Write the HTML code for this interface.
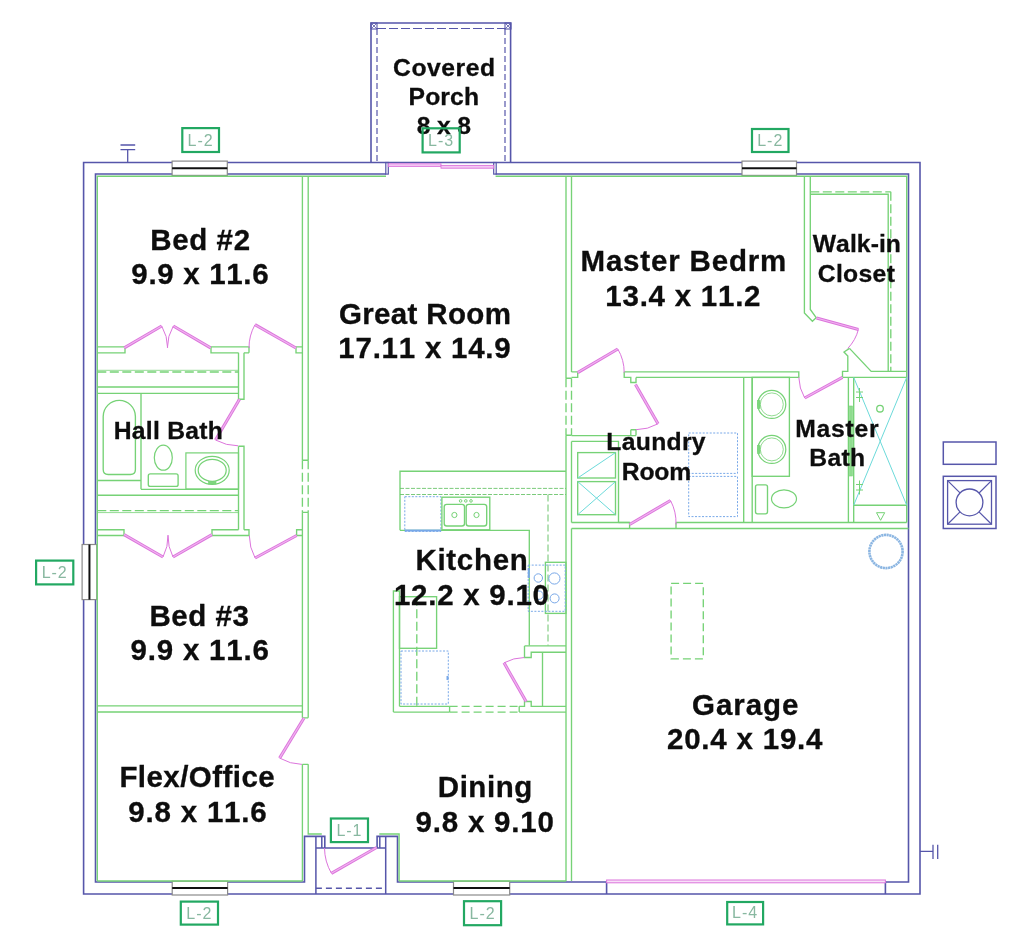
<!DOCTYPE html>
<html><head><meta charset="utf-8"><style>
html,body{margin:0;padding:0;background:#fff;width:1024px;height:932px;overflow:hidden}
svg{display:block;will-change:transform}
text{font-family:"Liberation Sans",sans-serif;font-kerning:none;font-feature-settings:"kern" 0}
</style></head><body>
<svg width="1024" height="932" viewBox="0 0 1024 932">
<rect width="1024" height="932" fill="#fff"/>
<path d="M386,162.5 H83.6 V894 H920 V162.5 H495.6" stroke="#5656aa" stroke-width="1.6" fill="none"/>
<line x1="386" y1="162.5" x2="495.6" y2="162.5" stroke="#5656aa" stroke-width="1.6"/>
<rect x="385.8" y="162.5" width="2.5" height="11.6" stroke="#5656aa" stroke-width="1.2" fill="none"/>
<rect x="493.7" y="162.5" width="2.5" height="11.6" stroke="#5656aa" stroke-width="1.2" fill="none"/>
<path d="M386,174 H95.5 V882 H304.5 V836.4 H324.8 V848" stroke="#5656aa" stroke-width="1.6" fill="none"/>
<path d="M315.9,836.4 V894 M321.8,836.4 V848 M315.9,848 H385.7" stroke="#5656aa" stroke-width="1.5" fill="none"/>
<path d="M377.1,848 V836.4 H397.5 V882 H606.6 V894" stroke="#5656aa" stroke-width="1.6" fill="none"/>
<path d="M379.8,836.4 V848 M385.7,836.4 V894" stroke="#5656aa" stroke-width="1.5" fill="none"/>
<line x1="315.9" y1="888.3" x2="385.7" y2="888.3" stroke="#5656aa" stroke-width="1.5" stroke-dasharray="6,4"/>
<path d="M885.4,894 V882 H908.5 V174 H495.6" stroke="#5656aa" stroke-width="1.6" fill="none"/>
<rect x="606.6" y="880" width="278.8" height="2.8" stroke="#dc74dc" stroke-width="1.0" fill="#f8e0f8"/>
<rect x="388.3" y="163.8" width="52.7" height="2.6" stroke="#dc74dc" stroke-width="0.9" fill="#f4c8f4"/>
<rect x="441" y="165.4" width="52.7" height="2.8" stroke="#dc74dc" stroke-width="0.9" fill="#f4c8f4"/>
<path d="M371,162.5 V23 H510.6 V162.5" stroke="#5656aa" stroke-width="1.6" fill="none"/>
<line x1="377" y1="29" x2="377" y2="162" stroke="#5656aa" stroke-width="1.2" stroke-dasharray="6,3"/>
<line x1="505" y1="29" x2="505" y2="162" stroke="#5656aa" stroke-width="1.2" stroke-dasharray="6,3"/>
<line x1="377" y1="28.5" x2="505" y2="28.5" stroke="#5656aa" stroke-width="1.2" stroke-dasharray="9,3"/>
<rect x="371" y="23" width="6" height="6" stroke="#5656aa" stroke-width="1.1" fill="none"/>
<path d="M371,23 l6,6 M377,23 l-6,6" stroke="#5656aa" stroke-width="0.8" fill="none"/>
<rect x="505" y="23" width="6" height="6" stroke="#5656aa" stroke-width="1.1" fill="none"/>
<path d="M505,23 l6,6 M511,23 l-6,6" stroke="#5656aa" stroke-width="0.8" fill="none"/>
<path d="M127.7,149.6 V162.5 M120.5,145 H135.2 M120.5,149.6 H135.2" stroke="#5656aa" stroke-width="1.3" fill="none"/>
<path d="M920,851.3 H933 M933,844.7 V859 M937.7,844.7 V859" stroke="#5656aa" stroke-width="1.3" fill="none"/>
<rect x="943.3" y="442" width="52.7" height="22.3" stroke="#5656aa" stroke-width="1.5" fill="none"/>
<rect x="943.3" y="476.3" width="52.7" height="52.2" stroke="#5656aa" stroke-width="1.5" fill="none"/>
<rect x="947.6" y="480.6" width="43.9" height="43.6" stroke="#5656aa" stroke-width="1.3" fill="none"/>
<circle cx="969.5" cy="502.4" r="13.4" stroke="#5656aa" stroke-width="1.3" fill="none"/>
<line x1="947.6" y1="480.6" x2="960.0031115465692" y2="492.94647633402786" stroke="#5656aa" stroke-width="1.2"/>
<line x1="991.5" y1="480.6" x2="979.0183975321918" y2="492.9681333544645" stroke="#5656aa" stroke-width="1.2"/>
<line x1="947.6" y1="524.2" x2="960.0031115465694" y2="511.8535236659721" stroke="#5656aa" stroke-width="1.2"/>
<line x1="991.5" y1="524.2" x2="979.0183975321918" y2="511.8318666455355" stroke="#5656aa" stroke-width="1.2"/>
<rect x="172.1" y="161.1" width="55.2" height="14.3" stroke="#8a8a8a" stroke-width="1.2" fill="#ffffff"/>
<line x1="172.1" y1="168.25" x2="227.3" y2="168.25" stroke="#111" stroke-width="2"/>
<rect x="742" y="161.1" width="54.5" height="14.3" stroke="#8a8a8a" stroke-width="1.2" fill="#ffffff"/>
<line x1="742" y1="168.25" x2="796.5" y2="168.25" stroke="#111" stroke-width="2"/>
<rect x="172.2" y="881.2" width="55.4" height="13.8" stroke="#8a8a8a" stroke-width="1.2" fill="#ffffff"/>
<line x1="172.2" y1="888.1" x2="227.6" y2="888.1" stroke="#111" stroke-width="2"/>
<rect x="453.5" y="881.2" width="56.2" height="13.8" stroke="#8a8a8a" stroke-width="1.2" fill="#ffffff"/>
<line x1="453.5" y1="888.1" x2="509.7" y2="888.1" stroke="#111" stroke-width="2"/>
<rect x="82.1" y="544.5" width="14.7" height="55.1" stroke="#8a8a8a" stroke-width="1.2" fill="#ffffff"/>
<line x1="89.44999999999999" y1="544.5" x2="89.44999999999999" y2="599.6" stroke="#111" stroke-width="2"/>
<path d="M97.3,881 V176.2 H386 M495.6,176.2 H906.7 V522.5" stroke="#76d276" stroke-width="1.35" fill="none"/>
<path d="M97.3,881 H302.4" stroke="#76d276" stroke-width="1.35" fill="none"/>
<path d="M399.1,881 H566" stroke="#76d276" stroke-width="1.35" fill="none"/>
<path d="M302.4,176.2 V460.2 M302.4,512.3 V717.8 M302.4,764.3 V881" stroke="#76d276" stroke-width="1.35" fill="none"/>
<path d="M308.2,176.2 V460.2 M308.2,512.3 V717.8 M308.2,764.3 V834 H321.8" stroke="#76d276" stroke-width="1.35" fill="none"/>
<line x1="302.4" y1="460.2" x2="302.4" y2="512.3" stroke="#76d276" stroke-width="1.35" stroke-dasharray="9,3.5"/>
<line x1="308.2" y1="460.2" x2="308.2" y2="512.3" stroke="#76d276" stroke-width="1.35" stroke-dasharray="9,3.5"/>
<path d="M302.4,460.2 H308.2 M302.4,512.3 H308.2 M302.4,717.8 H308.2 M302.4,764.3 H308.2" stroke="#76d276" stroke-width="1.35" fill="none"/>
<path d="M379.3,834 H399.1 V881" stroke="#76d276" stroke-width="1.35" fill="none"/>
<path d="M97.3,346.9 H125 V352.8 H97.3" stroke="#76d276" stroke-width="1.35" fill="none"/>
<path d="M249,352.8 V346.9 H211 V352.8 H238.5 M244,352.8 H249" stroke="#76d276" stroke-width="1.35" fill="none"/>
<path d="M302.4,346.9 H296 V352.8 H302.4" stroke="#76d276" stroke-width="1.35" fill="none"/>
<line x1="97.3" y1="372" x2="238.5" y2="372" stroke="#76d276" stroke-width="1.35" stroke-dasharray="9,3.5"/>
<line x1="97.3" y1="370.3" x2="238.5" y2="370.3" stroke="#76d276" stroke-width="0.8"/>
<path d="M97.3,387 H238.5 M97.3,393.3 H238.5" stroke="#76d276" stroke-width="1.35" fill="none"/>
<path d="M238.5,352.8 V399.2 H244 V352.8" stroke="#76d276" stroke-width="1.35" fill="none"/>
<path d="M238.5,446.2 H244 V529.7 M238.5,446.2 V529.7" stroke="#76d276" stroke-width="1.35" fill="none"/>
<path d="M103.2,469.5 V416.5 A16.1,16.1 0 0 1 135.4,416.5 V469.5 Q135.4,474.5 130.4,474.5 H108.2 Q103.2,474.5 103.2,469.5 Z" stroke="#76d276" stroke-width="1.35" fill="none"/>
<path d="M141,393.3 V489.3 M97.3,480.5 H141" stroke="#76d276" stroke-width="1.35" fill="none"/>
<ellipse cx="163.3" cy="457.7" rx="9" ry="12.5" stroke="#76d276" stroke-width="1.2" fill="none"/>
<rect x="148.3" y="473.8" width="29.8" height="12.6" stroke="#76d276" stroke-width="1.35" fill="none" rx="2"/>
<rect x="185.9" y="452.9" width="52.6" height="36.1" stroke="#76d276" stroke-width="1.2" fill="none"/>
<ellipse cx="212.2" cy="470.3" rx="17" ry="14" stroke="#76d276" stroke-width="1.2" fill="none"/>
<rect x="208.5" y="481.6" width="7.5" height="2.4" stroke="#76d276" stroke-width="0.6" fill="#7ed67e"/>
<ellipse cx="212.2" cy="470.3" rx="14" ry="11" stroke="#76d276" stroke-width="1.2" fill="none"/>
<path d="M141,489.3 H238.5 M97.3,495.2 H238.5" stroke="#76d276" stroke-width="1.35" fill="none"/>
<line x1="97.3" y1="510.6" x2="238.5" y2="510.6" stroke="#76d276" stroke-width="1.35" stroke-dasharray="9,3.5"/>
<line x1="97.3" y1="512.6" x2="238.5" y2="512.6" stroke="#76d276" stroke-width="0.8"/>
<path d="M97.3,529.7 H124 V535.5 H97.3" stroke="#76d276" stroke-width="1.35" fill="none"/>
<path d="M212,535.5 V529.7 H238.5 M244,529.7 H249 V535.5 H212" stroke="#76d276" stroke-width="1.35" fill="none"/>
<path d="M302.4,529.7 H296.6 V535.5 H302.4" stroke="#76d276" stroke-width="1.35" fill="none"/>
<path d="M97.3,705.9 H302.4 M97.3,712 H302.4" stroke="#76d276" stroke-width="1.35" fill="none"/>
<path d="M566,176.2 V378.2 M566,435.2 V881" stroke="#76d276" stroke-width="1.35" fill="none"/>
<path d="M571.5,176.2 V372 M571.5,441.4 V522.5 M571.5,528.5 V881" stroke="#76d276" stroke-width="1.35" fill="none"/>
<line x1="566" y1="378.2" x2="566" y2="435.2" stroke="#76d276" stroke-width="1.35" stroke-dasharray="9,3.5"/>
<line x1="571.5" y1="378.2" x2="571.5" y2="435.2" stroke="#76d276" stroke-width="1.35" stroke-dasharray="9,3.5"/>
<path d="M566,378.2 H571.5 M566,435.2 H571.5" stroke="#76d276" stroke-width="1.35" fill="none"/>
<path d="M571.5,371.8 H577.7 V377.4 H571.5" stroke="#76d276" stroke-width="1.35" fill="none"/>
<path d="M624.2,371.8 H798.8 V377.4 H636" stroke="#76d276" stroke-width="1.35" fill="none"/>
<path d="M624.2,371.8 V377.4 H630.8 V382.5 H636 V377.4" stroke="#76d276" stroke-width="1.35" fill="none"/>
<path d="M630.8,429.7 H636 V435.6 M630.8,429.7 V435.6" stroke="#76d276" stroke-width="1.35" fill="none"/>
<path d="M571.5,435.6 H636 M571.5,441.4 H618.5 V522.5" stroke="#76d276" stroke-width="1.35" fill="none"/>
<path d="M636,441.4 H636" stroke="#76d276" stroke-width="1.35" fill="none"/>
<rect x="577.7" y="452.6" width="37.8" height="25.4" stroke="#76d276" stroke-width="1.35" fill="none"/>
<rect x="577.7" y="481.6" width="37.8" height="33.1" stroke="#76d276" stroke-width="1.35" fill="none"/>
<path d="M577.7,478 L615.5,452.6" stroke="#6cdada" stroke-width="1.0" fill="none"/>
<path d="M577.7,481.6 L615.5,514.7 M577.7,514.7 L615.5,481.6" stroke="#6cdada" stroke-width="1.0" fill="none"/>
<rect x="688.7" y="433" width="48.8" height="40.4" stroke="#78a8e8" stroke-width="1.0" fill="none" stroke-dasharray="2,1.5"/>
<rect x="688.7" y="476.4" width="48.8" height="40.2" stroke="#78a8e8" stroke-width="1.0" fill="none" stroke-dasharray="2,1.5"/>
<path d="M743.7,377.4 V522.5 M752.2,377.4 V522.5" stroke="#76d276" stroke-width="1.35" fill="none"/>
<path d="M571.5,522.5 H629.6 V528.5 M571.5,528.5 H908.5" stroke="#76d276" stroke-width="1.35" fill="none"/>
<path d="M676,522.5 H906.7 M676,522.5 V528.5" stroke="#76d276" stroke-width="1.35" fill="none"/>
<path d="M618.5,522.5 H629.6" stroke="#76d276" stroke-width="1.35" fill="none"/>
<path d="M804.4,176.2 V313 L812.4,321.3 L816.2,317.7 L810.3,309.5 V176.2" stroke="#76d276" stroke-width="1.35" fill="none"/>
<path d="M810.3,194.2 H888.2 V371.4" stroke="#76d276" stroke-width="1.35" fill="none"/>
<line x1="810.3" y1="191.8" x2="890.8" y2="191.8" stroke="#76d276" stroke-width="1.35" stroke-dasharray="9,3.5"/>
<line x1="890.8" y1="191.8" x2="890.8" y2="371.4" stroke="#76d276" stroke-width="1.35" stroke-dasharray="9,3.5"/>
<path d="M849.5,348.4 L844,352 L847.8,356 V371.4 H842.5 V377.3" stroke="#76d276" stroke-width="1.35" fill="none"/>
<path d="M849.5,348.4 L871.2,371.4 H906.7" stroke="#76d276" stroke-width="1.35" fill="none"/>
<path d="M842.5,377.3 H906.7" stroke="#76d276" stroke-width="1.35" fill="none"/>
<rect x="752.2" y="377.4" width="37.2" height="98.9" stroke="#76d276" stroke-width="1.35" fill="none"/>
<circle cx="771.8" cy="404.4" r="14" stroke="#76d276" stroke-width="1.2" fill="none"/>
<circle cx="771.8" cy="404.4" r="11.5" stroke="#76d276" stroke-width="0.8" fill="none"/>
<circle cx="771.8" cy="449.4" r="14" stroke="#76d276" stroke-width="1.2" fill="none"/>
<circle cx="771.8" cy="449.4" r="11.5" stroke="#76d276" stroke-width="0.8" fill="none"/>
<rect x="757.6" y="400.5" width="2.4" height="8.0" stroke="#76d276" stroke-width="0.6" fill="#7ed67e"/>
<rect x="757.6" y="445.5" width="2.4" height="8.0" stroke="#76d276" stroke-width="0.6" fill="#7ed67e"/>
<rect x="755.5" y="484.8" width="12.0" height="29.0" stroke="#76d276" stroke-width="1.35" fill="none" rx="2"/>
<ellipse cx="784" cy="498.8" rx="12.5" ry="9" stroke="#76d276" stroke-width="1.2" fill="none"/>
<path d="M848.4,377.4 V522.5 M853.7,377.4 V522.5" stroke="#76d276" stroke-width="1.35" fill="none"/>
<path d="M853.7,505.2 H906.7" stroke="#76d276" stroke-width="1.35" fill="none"/>
<path d="M853.7,377.4 L906.7,505.2 M906.7,377.4 L853.7,505.2" stroke="#6cdada" stroke-width="1.0" fill="none"/>
<circle cx="880" cy="408.7" r="3.3" stroke="#76d276" stroke-width="1.3" fill="none"/>
<rect x="849.6" y="406" width="2.8" height="70" stroke="#76d276" stroke-width="0.6" fill="#8edc8e"/>
<path d="M859.5,388 V402 M856,392 H863 M856,397.5 H863" stroke="#76d276" stroke-width="1.0" fill="none"/>
<path d="M859.5,480.5 V494.5 M856,484.5 H863 M856,490 H863" stroke="#76d276" stroke-width="1.0" fill="none"/>
<path d="M876.5,512.7 H884.7 L880.6,520.3 Z" stroke="#76d276" stroke-width="1.0" fill="none"/>
<path d="M400,530.3 V471.2 H566" stroke="#76d276" stroke-width="1.35" fill="none"/>
<line x1="400" y1="488.4" x2="566" y2="488.4" stroke="#6cc46c" stroke-width="0.9" stroke-dasharray="4,1.5"/>
<line x1="400" y1="494.5" x2="566" y2="494.5" stroke="#6cc46c" stroke-width="0.9" stroke-dasharray="4,1.5"/>
<path d="M400,530.3 H529.3 V645.6" stroke="#76d276" stroke-width="1.35" fill="none"/>
<line x1="548" y1="494.5" x2="548" y2="645.6" stroke="#6cc46c" stroke-width="1.0" stroke-dasharray="7,3"/>
<rect x="404.8" y="496.7" width="36.1" height="34.7" stroke="#78a8e8" stroke-width="1.0" fill="none" stroke-dasharray="2,1.5"/>
<line x1="404.8" y1="530.5" x2="440.9" y2="530.5" stroke="#78a8e8" stroke-width="2"/>
<rect x="441.9" y="497.2" width="47.9" height="32.6" stroke="#76d276" stroke-width="1.35" fill="none"/>
<rect x="444.2" y="504.3" width="20.3" height="21.7" stroke="#76d276" stroke-width="1.35" fill="none" rx="2.5"/>
<rect x="466.2" y="504.3" width="20.5" height="21.7" stroke="#76d276" stroke-width="1.35" fill="none" rx="2.5"/>
<circle cx="454.4" cy="515" r="2.6" stroke="#76d276" stroke-width="1.0" fill="none"/>
<circle cx="476.5" cy="515" r="2.6" stroke="#76d276" stroke-width="1.0" fill="none"/>
<circle cx="460.6" cy="500.9" r="1.3" stroke="#76d276" stroke-width="1.0" fill="none"/>
<circle cx="465.8" cy="500.9" r="1.3" stroke="#76d276" stroke-width="1.0" fill="none"/>
<circle cx="471" cy="500.9" r="1.3" stroke="#76d276" stroke-width="1.0" fill="none"/>
<rect x="545.4" y="562.3" width="20.6" height="51.1" stroke="#76d276" stroke-width="1.35" fill="none"/>
<rect x="528.2" y="565.1" width="37.0" height="46.2" stroke="#78a8e8" stroke-width="1.0" fill="none" stroke-dasharray="2,1.5"/>
<circle cx="538.3" cy="578" r="4.2" stroke="#78a8e8" stroke-width="1.0" fill="none"/>
<circle cx="554.4" cy="578.5" r="5.6" stroke="#78a8e8" stroke-width="1.0" fill="none"/>
<circle cx="539" cy="595.2" r="4.2" stroke="#78a8e8" stroke-width="1.0" fill="none"/>
<circle cx="554.6" cy="598.4" r="4.5" stroke="#78a8e8" stroke-width="1.0" fill="none"/>
<line x1="528.8" y1="568" x2="528.8" y2="578" stroke="#78a8e8" stroke-width="2"/>
<path d="M393.4,712.1 V591 H399.5 V706.3" stroke="#76d276" stroke-width="1.35" fill="none"/>
<rect x="399.5" y="596.7" width="37.1" height="51.6" stroke="#76d276" stroke-width="1.35" fill="none"/>
<line x1="416.8" y1="596.7" x2="416.8" y2="706.3" stroke="#76d276" stroke-width="1.35" stroke-dasharray="9,3.5"/>
<rect x="401" y="651" width="47.3" height="53" stroke="#78a8e8" stroke-width="1.0" fill="none" stroke-dasharray="2,1.5"/>
<line x1="447.5" y1="676" x2="447.5" y2="680" stroke="#78a8e8" stroke-width="2"/>
<path d="M393.4,712.1 H449.6 M399.5,706.3 H449.6 M449.6,706.3 V712.1" stroke="#76d276" stroke-width="1.35" fill="none"/>
<line x1="449.6" y1="706.3" x2="519.2" y2="706.3" stroke="#76d276" stroke-width="1.35" stroke-dasharray="8,4"/>
<line x1="449.6" y1="712.1" x2="519.2" y2="712.1" stroke="#76d276" stroke-width="1.35" stroke-dasharray="8,4"/>
<path d="M519.2,706.3 V712.1 M519.2,712.1 H566 M519.2,706.3 H524.5 V701.5 H531.2 V706.3 H566" stroke="#76d276" stroke-width="1.35" fill="none"/>
<path d="M524.5,645.9 H566 M524.5,645.9 V657.5 H531.2 V652.2 H566" stroke="#76d276" stroke-width="1.35" fill="none"/>
<line x1="542.5" y1="652.2" x2="542.5" y2="706.3" stroke="#76d276" stroke-width="1.35"/>
<line x1="124.3" y1="347.8" x2="161.7" y2="326" stroke="#dc74dc" stroke-width="3.1" stroke-linecap="butt"/>
<line x1="124.3" y1="347.8" x2="161.7" y2="326" stroke="#f0b4f0" stroke-width="1.2000000000000002"/>
<path d="M161.7,326 A43.29,43.29 0 0 1 167.6,347.8" stroke="#dc74dc" stroke-width="1" fill="none"/>
<line x1="210.6" y1="347.8" x2="173.3" y2="326" stroke="#dc74dc" stroke-width="3.1" stroke-linecap="butt"/>
<line x1="210.6" y1="347.8" x2="173.3" y2="326" stroke="#f0b4f0" stroke-width="1.2000000000000002"/>
<path d="M173.3,326 A43.20,43.20 0 0 0 167.4,347.8" stroke="#dc74dc" stroke-width="1" fill="none"/>
<line x1="296" y1="348" x2="255" y2="324.7" stroke="#dc74dc" stroke-width="3.1" stroke-linecap="butt"/>
<line x1="296" y1="348" x2="255" y2="324.7" stroke="#f0b4f0" stroke-width="1.2000000000000002"/>
<path d="M255,324.7 A47.16,47.16 0 0 0 249,348" stroke="#dc74dc" stroke-width="1" fill="none"/>
<line x1="239.5" y1="399.3" x2="215.5" y2="440" stroke="#dc74dc" stroke-width="3.1" stroke-linecap="butt"/>
<line x1="239.5" y1="399.3" x2="215.5" y2="440" stroke="#f0b4f0" stroke-width="1.2000000000000002"/>
<path d="M215.5,440 A47.25,47.25 0 0 0 238.2,445.8" stroke="#dc74dc" stroke-width="1" fill="none"/>
<line x1="124" y1="534.6" x2="163" y2="557" stroke="#dc74dc" stroke-width="3.1" stroke-linecap="butt"/>
<line x1="124" y1="534.6" x2="163" y2="557" stroke="#f0b4f0" stroke-width="1.2000000000000002"/>
<path d="M163,557 A44.98,44.98 0 0 0 168,535.2" stroke="#dc74dc" stroke-width="1" fill="none"/>
<line x1="212" y1="534.6" x2="173" y2="557" stroke="#dc74dc" stroke-width="3.1" stroke-linecap="butt"/>
<line x1="212" y1="534.6" x2="173" y2="557" stroke="#f0b4f0" stroke-width="1.2000000000000002"/>
<path d="M173,557 A44.98,44.98 0 0 1 168,535.2" stroke="#dc74dc" stroke-width="1" fill="none"/>
<line x1="296.6" y1="535.5" x2="255.1" y2="558" stroke="#dc74dc" stroke-width="3.1" stroke-linecap="butt"/>
<line x1="296.6" y1="535.5" x2="255.1" y2="558" stroke="#f0b4f0" stroke-width="1.2000000000000002"/>
<path d="M255.1,558 A47.21,47.21 0 0 1 249.3,535.5" stroke="#dc74dc" stroke-width="1" fill="none"/>
<line x1="304" y1="718" x2="279.6" y2="758.1" stroke="#dc74dc" stroke-width="3.1" stroke-linecap="butt"/>
<line x1="304" y1="718" x2="279.6" y2="758.1" stroke="#f0b4f0" stroke-width="1.2000000000000002"/>
<path d="M279.6,758.1 A46.94,46.94 0 0 0 302,764.4" stroke="#dc74dc" stroke-width="1" fill="none"/>
<line x1="376.6" y1="847.5" x2="331.4" y2="873.3" stroke="#dc74dc" stroke-width="3.1" stroke-linecap="butt"/>
<line x1="376.6" y1="847.5" x2="331.4" y2="873.3" stroke="#f0b4f0" stroke-width="1.2000000000000002"/>
<path d="M331.4,873.3 A52.04,52.04 0 0 1 324.5,848" stroke="#dc74dc" stroke-width="1" fill="none"/>
<line x1="577.7" y1="372.6" x2="617.8" y2="349" stroke="#dc74dc" stroke-width="3.1" stroke-linecap="butt"/>
<line x1="577.7" y1="372.6" x2="617.8" y2="349" stroke="#f0b4f0" stroke-width="1.2000000000000002"/>
<path d="M617.8,349 A46.53,46.53 0 0 1 624.2,372.6" stroke="#dc74dc" stroke-width="1" fill="none"/>
<line x1="635.5" y1="384.5" x2="658" y2="423.8" stroke="#dc74dc" stroke-width="3.1" stroke-linecap="butt"/>
<line x1="635.5" y1="384.5" x2="658" y2="423.8" stroke="#f0b4f0" stroke-width="1.2000000000000002"/>
<path d="M658,423.8 A45.29,45.29 0 0 1 636,429.7" stroke="#dc74dc" stroke-width="1" fill="none"/>
<line x1="629.6" y1="524.5" x2="670.5" y2="500.5" stroke="#dc74dc" stroke-width="3.1" stroke-linecap="butt"/>
<line x1="629.6" y1="524.5" x2="670.5" y2="500.5" stroke="#f0b4f0" stroke-width="1.2000000000000002"/>
<path d="M670.5,500.5 A47.42,47.42 0 0 1 676,524.5" stroke="#dc74dc" stroke-width="1" fill="none"/>
<line x1="816.5" y1="318" x2="858.4" y2="329.5" stroke="#dc74dc" stroke-width="3.1" stroke-linecap="butt"/>
<line x1="816.5" y1="318" x2="858.4" y2="329.5" stroke="#f0b4f0" stroke-width="1.2000000000000002"/>
<path d="M858.4,329.5 A43.45,43.45 0 0 1 847.8,348.4" stroke="#dc74dc" stroke-width="1" fill="none"/>
<line x1="842.5" y1="377.3" x2="804.7" y2="398" stroke="#dc74dc" stroke-width="3.1" stroke-linecap="butt"/>
<line x1="842.5" y1="377.3" x2="804.7" y2="398" stroke="#f0b4f0" stroke-width="1.2000000000000002"/>
<path d="M804.7,398 A43.10,43.10 0 0 1 798.8,377.3" stroke="#dc74dc" stroke-width="1" fill="none"/>
<line x1="526.1" y1="701.5" x2="504" y2="662.8" stroke="#dc74dc" stroke-width="3.1" stroke-linecap="butt"/>
<line x1="526.1" y1="701.5" x2="504" y2="662.8" stroke="#f0b4f0" stroke-width="1.2000000000000002"/>
<path d="M504,662.8 A44.57,44.57 0 0 1 524.4,657.5" stroke="#dc74dc" stroke-width="1" fill="none"/>
<rect x="671.1" y="583.4" width="32.2" height="75.4" stroke="#76d276" stroke-width="1.35" fill="none" stroke-dasharray="8,4"/>
<circle cx="886" cy="551.5" r="16.6" stroke="#8cb6e2" stroke-width="2.6" fill="none" stroke-dasharray="2.2,0.5"/>
<text x="393.11" y="75.8" font-size="24.70" letter-spacing="0.52" font-weight="bold" fill="#0d0d0d" stroke="#0d0d0d" stroke-width="0.3">Covered</text>
<text x="408.53" y="105.1" font-size="24.70" letter-spacing="0.15" font-weight="bold" fill="#0d0d0d" stroke="#0d0d0d" stroke-width="0.3">Porch</text>
<text x="416.80" y="134.1" font-size="24.70" letter-spacing="-0.16" font-weight="bold" fill="#0d0d0d" stroke="#0d0d0d" stroke-width="0.3">8 x 8</text>
<text x="150.31" y="249.8" font-size="29.50" letter-spacing="0.60" font-weight="bold" fill="#0d0d0d" stroke="#0d0d0d" stroke-width="0.3">Bed #2</text>
<text x="131.37" y="284" font-size="29.50" letter-spacing="0.67" font-weight="bold" fill="#0d0d0d" stroke="#0d0d0d" stroke-width="0.3">9.9 x 11.6</text>
<text x="338.92" y="323.5" font-size="29.50" letter-spacing="0.35" font-weight="bold" fill="#0d0d0d" stroke="#0d0d0d" stroke-width="0.3">Great Room</text>
<text x="338.36" y="357.5" font-size="29.50" letter-spacing="0.75" font-weight="bold" fill="#0d0d0d" stroke="#0d0d0d" stroke-width="0.3">17.11 x 14.9</text>
<text x="580.51" y="271.1" font-size="29.50" letter-spacing="0.82" font-weight="bold" fill="#0d0d0d" stroke="#0d0d0d" stroke-width="0.3">Master Bedrm</text>
<text x="605.36" y="306.2" font-size="29.50" letter-spacing="0.75" font-weight="bold" fill="#0d0d0d" stroke="#0d0d0d" stroke-width="0.3">13.4 x 11.2</text>
<text x="812.74" y="251.9" font-size="24.70" letter-spacing="0.07" font-weight="bold" fill="#0d0d0d" stroke="#0d0d0d" stroke-width="0.3">Walk-in</text>
<text x="817.71" y="281.5" font-size="24.70" letter-spacing="0.35" font-weight="bold" fill="#0d0d0d" stroke="#0d0d0d" stroke-width="0.3">Closet</text>
<text x="113.63" y="439.4" font-size="24.70" letter-spacing="0.28" font-weight="bold" fill="#0d0d0d" stroke="#0d0d0d" stroke-width="0.3">Hall Bath</text>
<text x="606.33" y="450.2" font-size="24.70" letter-spacing="0.31" font-weight="bold" fill="#0d0d0d" stroke="#0d0d0d" stroke-width="0.3">Laundry</text>
<text x="621.73" y="479.5" font-size="24.70" letter-spacing="-0.17" font-weight="bold" fill="#0d0d0d" stroke="#0d0d0d" stroke-width="0.3">Room</text>
<text x="795.13" y="437.3" font-size="24.70" letter-spacing="0.80" font-weight="bold" fill="#0d0d0d" stroke="#0d0d0d" stroke-width="0.3">Master</text>
<text x="809.33" y="466.3" font-size="24.70" letter-spacing="0.32" font-weight="bold" fill="#0d0d0d" stroke="#0d0d0d" stroke-width="0.3">Bath</text>
<text x="415.41" y="570.2" font-size="29.50" letter-spacing="0.71" font-weight="bold" fill="#0d0d0d" stroke="#0d0d0d" stroke-width="0.3">Kitchen</text>
<text x="393.96" y="604.7" font-size="29.50" letter-spacing="0.74" font-weight="bold" fill="#0d0d0d" stroke="#0d0d0d" stroke-width="0.3">12.2 x 9.10</text>
<text x="149.41" y="625.6" font-size="29.50" letter-spacing="0.53" font-weight="bold" fill="#0d0d0d" stroke="#0d0d0d" stroke-width="0.3">Bed #3</text>
<text x="130.57" y="660" font-size="29.50" letter-spacing="0.78" font-weight="bold" fill="#0d0d0d" stroke="#0d0d0d" stroke-width="0.3">9.9 x 11.6</text>
<text x="692.02" y="714.5" font-size="29.50" letter-spacing="0.96" font-weight="bold" fill="#0d0d0d" stroke="#0d0d0d" stroke-width="0.3">Garage</text>
<text x="666.97" y="748.9" font-size="29.50" letter-spacing="0.79" font-weight="bold" fill="#0d0d0d" stroke="#0d0d0d" stroke-width="0.3">20.4 x 19.4</text>
<text x="119.41" y="787.1" font-size="29.50" letter-spacing="0.44" font-weight="bold" fill="#0d0d0d" stroke="#0d0d0d" stroke-width="0.3">Flex/Office</text>
<text x="128.17" y="822" font-size="29.50" letter-spacing="0.82" font-weight="bold" fill="#0d0d0d" stroke="#0d0d0d" stroke-width="0.3">9.8 x 11.6</text>
<text x="437.81" y="796.9" font-size="29.50" letter-spacing="0.53" font-weight="bold" fill="#0d0d0d" stroke="#0d0d0d" stroke-width="0.3">Dining</text>
<text x="415.57" y="832.2" font-size="29.50" letter-spacing="0.79" font-weight="bold" fill="#0d0d0d" stroke="#0d0d0d" stroke-width="0.3">9.8 x 9.10</text>
<rect x="182.3" y="128.1" width="36.7" height="23.9" stroke="#22a862" stroke-width="2.2" fill="none"/>
<text x="200.65" y="146" font-size="16" text-anchor="middle" fill="#88b8a0" font-weight="normal" letter-spacing="1">L-2</text>
<rect x="752" y="129" width="36.5" height="23" stroke="#22a862" stroke-width="2.2" fill="none"/>
<text x="770.25" y="146" font-size="16" text-anchor="middle" fill="#88b8a0" font-weight="normal" letter-spacing="1">L-2</text>
<rect x="422.6" y="128.3" width="37.1" height="24.1" stroke="#22a862" stroke-width="2.2" fill="none"/>
<text x="441.15" y="146.4" font-size="16" text-anchor="middle" fill="#88b8a0" font-weight="normal" letter-spacing="1">L-3</text>
<rect x="36.1" y="560.6" width="37.2" height="23.8" stroke="#22a862" stroke-width="2.2" fill="none"/>
<text x="54.7" y="578.4" font-size="16" text-anchor="middle" fill="#88b8a0" font-weight="normal" letter-spacing="1">L-2</text>
<rect x="180.8" y="901.6" width="37.2" height="23.0" stroke="#22a862" stroke-width="2.2" fill="none"/>
<text x="199.4" y="918.6" font-size="16" text-anchor="middle" fill="#88b8a0" font-weight="normal" letter-spacing="1">L-2</text>
<rect x="330.9" y="818.5" width="37.1" height="23.6" stroke="#22a862" stroke-width="2.2" fill="none"/>
<text x="349.45" y="836.1" font-size="16" text-anchor="middle" fill="#88b8a0" font-weight="normal" letter-spacing="1">L-1</text>
<rect x="464" y="901.2" width="37.1" height="24.0" stroke="#22a862" stroke-width="2.2" fill="none"/>
<text x="482.55" y="919.2" font-size="16" text-anchor="middle" fill="#88b8a0" font-weight="normal" letter-spacing="1">L-2</text>
<rect x="727.2" y="902" width="35.9" height="22.4" stroke="#22a862" stroke-width="2.2" fill="none"/>
<text x="745.1500000000001" y="918.4" font-size="16" text-anchor="middle" fill="#88b8a0" font-weight="normal" letter-spacing="1">L-4</text>
</svg></body></html>
